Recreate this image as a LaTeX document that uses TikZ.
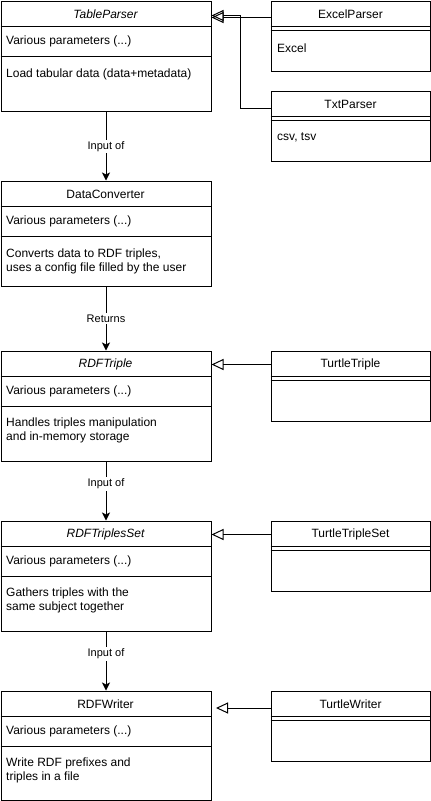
\documentclass[tikz,border=0pt]{standalone}
\usepackage{fontspec}
\setmainfont{Liberation Sans}
\usetikzlibrary{arrows.meta,calc}
\begin{document}
\begin{tikzpicture}[x=1pt,y=-1pt,
 cls/.style={draw, line width=1pt, anchor=north west, inner sep=0pt},
 big/.style={cls, minimum width=210pt, minimum height=110pt},
 mid/.style={cls, minimum width=210pt, minimum height=105pt},
 sub/.style={cls, minimum width=159.5pt, minimum height=70pt},
 sep/.style={line width=1pt},
 txt/.style={anchor=west, inner sep=0pt, font=\fontsize{12}{14}\selectfont, align=left},
 ttl/.style={inner sep=0pt, font=\fontsize{12}{14}\selectfont},
 lbl/.style={fill=white, inner sep=1.5pt, font=\fontsize{11}{13}\selectfont},
 flow/.style={line width=1pt, -{Stealth[length=8pt,width=8pt,inset=2pt]}},
 inh/.style={line width=1pt, -{Triangle[open,length=12pt,width=11pt]}},
]
\useasboundingbox (0,0) rectangle (431,801);

% ---- TableParser
\node[big] (tp) at (0.5,0.5) {};
\draw[sep] (0.5,26.5) -- (210.5,26.5);
\draw[sep] (0.5,56.5) -- (210.5,56.5);
\node[ttl] (tpT) at (105.5,14) {\itshape TableParser};
\node[txt] (tpA) at (6,41) {Various parameters (...)};
\node[txt] (tpB) at (6,74) {Load tabular data (data+metadata)};

% ---- ExcelParser
\node[sub] (ep) at (270.5,0.5) {};
\draw[sep] (270.5,26.5) -- (430,26.5);
\draw[sep] (270.5,30.5) -- (430,30.5);
\node[ttl] (epT) at (350.5,14) {ExcelParser};
\node[txt] (epA) at (277,48) {Excel};

% ---- TxtParser
\node[sub] (xp) at (270.5,90.5) {};
\draw[sep] (270.5,116.5) -- (430,116.5);
\draw[sep] (270.5,120.5) -- (430,120.5);
\node[ttl] (xpT) at (350.5,104) {TxtParser};
\node[txt] (xpA) at (277,137) {csv, tsv};

% ---- DataConverter
\node[mid] (dc) at (0.5,180.5) {};
\draw[sep] (0.5,206.5) -- (210.5,206.5);
\draw[sep] (0.5,236.5) -- (210.5,236.5);
\node[ttl] (dcT) at (105.5,194) {DataConverter};
\node[txt] (dcA) at (6,221) {Various parameters (...)};
\node[txt] (dcB) at (6,261) {Converts data to RDF triples,\\uses a config file filled by the user};

% ---- RDFTriple
\node[big] (rt) at (0.5,350.5) {};
\draw[sep] (0.5,376.5) -- (210.5,376.5);
\draw[sep] (0.5,406.5) -- (210.5,406.5);
\node[ttl] (rtT) at (105.5,364) {\itshape RDFTriple};
\node[txt] (rtA) at (6,391) {Various parameters (...)};
\node[txt] (rtB) at (6,430) {Handles triples manipulation\\and in-memory storage};

% ---- TurtleTriple
\node[sub] (tt) at (270.5,350.5) {};
\draw[sep] (270.5,376.5) -- (430,376.5);
\draw[sep] (270.5,380.5) -- (430,380.5);
\node[ttl] (ttT) at (350.5,364) {TurtleTriple};

% ---- RDFTriplesSet
\node[big] (rs) at (0.5,520.5) {};
\draw[sep] (0.5,546.5) -- (210.5,546.5);
\draw[sep] (0.5,576.5) -- (210.5,576.5);
\node[ttl] (rsT) at (105.5,534) {\itshape RDFTriplesSet};
\node[txt] (rsA) at (6,561) {Various parameters (...)};
\node[txt] (rsB) at (6,600) {Gathers triples with the\\same subject together};

% ---- TurtleTripleSet
\node[sub] (ts) at (270.5,520.5) {};
\draw[sep] (270.5,546.5) -- (430,546.5);
\draw[sep] (270.5,550.5) -- (430,550.5);
\node[ttl] (tsT) at (350.5,534) {TurtleTripleSet};

% ---- RDFWriter
\node[cls, minimum width=210pt, minimum height=109.5pt] (rw) at (0.5,690.5) {};
\draw[sep] (0.5,716.5) -- (210.5,716.5);
\draw[sep] (0.5,746.5) -- (210.5,746.5);
\node[ttl] (rwT) at (105.5,704) {RDFWriter};
\node[txt] (rwA) at (6,731) {Various parameters (...)};
\node[txt] (rwB) at (6,770) {Write RDF prefixes and\\triples in a file};

% ---- TurtleWriter
\node[sub] (tw) at (270.5,690.5) {};
\draw[sep] (270.5,716.5) -- (430,716.5);
\draw[sep] (270.5,720.5) -- (430,720.5);
\node[ttl] (twT) at (350.5,704) {TurtleWriter};

% ---- vertical flow connectors
\draw[flow] (tp.south) -- node[lbl, pos=0.51] (l1) {Input of} (dc.north);
\draw[flow] (dc.south) -- node[lbl, pos=0.5] (l2) {Returns} (rt.north);
\draw[flow] (rt.south) -- node[lbl, pos=0.38] (l3) {Input of} (rs.north);
\draw[flow] (rs.south) -- node[lbl, pos=0.38] (l4) {Input of} (rw.north);

% ---- inheritance connectors
\coordinate (e1) at ($(ep.north west)+(0,17)$);
\draw[inh] (e1) -- (e1 -| tp.east);
\coordinate (x1) at ($(xp.north west)+(0,17.5)$);
\coordinate (bend) at (240.5,15.5);
\draw[inh] (x1) -- (x1 -| bend) -- (bend) -- (bend -| tp.east);
\coordinate (t1) at ($(tt.north west)+(0,14)$);
\draw[inh] (t1) -- (t1 -| rt.east);
\coordinate (s1) at ($(ts.north west)+(0,14)$);
\draw[inh] (s1) -- (s1 -| rs.east);
\coordinate (w1) at ($(tw.north west)+(0,17.5)$);
\draw[inh, shorten >=4.5pt] (w1) -- (w1 -| rw.east);
\end{tikzpicture}
\end{document}
